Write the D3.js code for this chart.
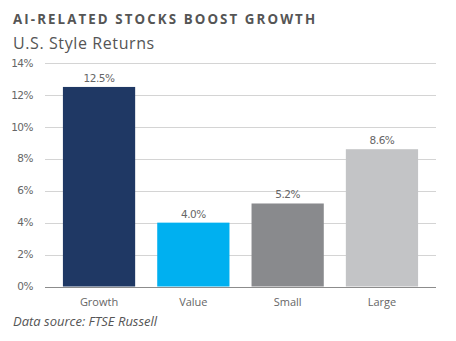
<!DOCTYPE html>
<html>
<head>
<meta charset="utf-8">
<script src="https://cdn.jsdelivr.net/npm/d3@7"></script>
<style>
  body { margin: 0; background: #fff; }
  svg { display: block; }
</style>
</head>
<body>
<div id="chart"></div>
<script>
// Rendimientos por estilo
const categories = ["Growth", "Value", "Small", "Large"];
const returns = [12.5, 4.0, 5.2, 8.6];
const barColors = ["#1f3864", "#00b0f0", "#898a8d", "#c3c4c6"];
const yTicks = [0, 2, 4, 6, 8, 10, 12, 14];

const WIDTH = 456;
const HEIGHT = 341;
const margin = { left: 45, right: 20, top: 63, bottom: 55 };

const svg = d3.select("#chart").append("svg")
    .attr("width", WIDTH)
    .attr("height", HEIGHT);

// Títulos
svg.append("text")
    .attr("x", 13)
    .attr("y", 24)
    .style("font-family", "'Open Sans', sans-serif")
    .style("font-size", "13.3px")
    .style("font-weight", "bold")
    .style("letter-spacing", "2.1px")
    .style("fill", "#555")
    .text("AI-RELATED STOCKS BOOST GROWTH");

svg.append("text")
    .attr("x", 13)
    .attr("y", 49)
    .style("font-family", "'Open Sans', sans-serif")
    .style("font-size", "16px")
    .style("letter-spacing", "0.6px")
    .style("fill", "#555")
    .text("U.S. Style Returns");

// Escalas
const x = d3.scaleBand()
    .domain(categories)
    .range([margin.left, WIDTH - margin.right])
    .paddingInner(0.234)
    .paddingOuter(0.19);

const y = d3.scaleLinear()
    .domain([0, 14])
    .range([HEIGHT - margin.bottom + 0.5, margin.top]);

// Líneas de grilla
svg.append("g")
    .selectAll("line")
    .data(yTicks.filter(d => d > 0))
    .enter().append("line")
    .attr("x1", margin.left)
    .attr("x2", WIDTH - margin.right)
    .attr("y1", d => Math.round(y(d)) + 0.5)
    .attr("y2", d => Math.round(y(d)) + 0.5)
    .attr("stroke", "#d4d4d4")
    .attr("stroke-width", 1);

// Etiquetas del eje Y
svg.append("g")
    .selectAll("text")
    .data(yTicks)
    .enter().append("text")
    .attr("x", 33)
    .attr("y", d => y(d))
    .attr("dy", "0.35em")
    .style("text-anchor", "end")
    .style("font-family", "'DejaVu Sans', sans-serif")
    .style("font-size", "10.5px")
    .style("letter-spacing", "-0.5px")
    .style("fill", "#666")
    .text(d => d + "%");

// Barras
svg.append("g")
    .selectAll("rect")
    .data(returns)
    .enter().append("rect")
    .attr("x", (d, i) => x(categories[i]))
    .attr("y", d => y(d))
    .attr("width", x.bandwidth())
    .attr("height", d => y(0) - y(d))
    .attr("fill", (d, i) => barColors[i]);

// Eje base
svg.append("line")
    .attr("x1", margin.left)
    .attr("x2", WIDTH - margin.right)
    .attr("y1", Math.round(y(0)) + 0.5)
    .attr("y2", Math.round(y(0)) + 0.5)
    .attr("stroke", "#8c8c8c")
    .attr("stroke-width", 1);

// Valores sobre las barras
svg.append("g")
    .selectAll("text")
    .data(returns)
    .enter().append("text")
    .attr("x", (d, i) => x(categories[i]) + x.bandwidth() / 2)
    .attr("y", d => y(d) - 5)
    .style("text-anchor", "middle")
    .style("font-family", "'DejaVu Sans', sans-serif")
    .style("font-size", "10.5px")
    .style("letter-spacing", "-0.5px")
    .style("fill", "#666")
    .text(d => d.toFixed(1) + "%");

// Categorías
svg.append("g")
    .selectAll("text")
    .data(categories)
    .enter().append("text")
    .attr("x", d => x(d) + x.bandwidth() / 2)
    .attr("y", y(0) + 19)
    .style("text-anchor", "middle")
    .style("font-family", "'Open Sans', sans-serif")
    .style("font-size", "11px")
    .style("fill", "#666")
    .text(d => d);

// Fuente
svg.append("text")
    .attr("x", 13)
    .attr("y", 326)
    .style("font-family", "'Open Sans', sans-serif")
    .style("font-size", "13px")
    .style("font-style", "italic")
    .style("fill", "#555")
    .text("Data source: FTSE Russell");
</script>
</body>
</html>
